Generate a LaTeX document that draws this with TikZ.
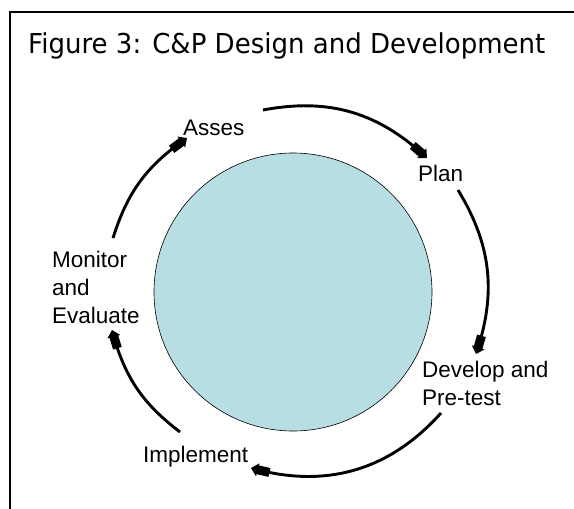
\documentclass[tikz,border=0pt]{standalone}
\usepackage{fontspec}
\setmainfont{Liberation Sans}
\newfontfamily\titlefont[FakeStretch=0.95]{DejaVu Sans}
\usetikzlibrary{arrows.meta,bending}
\definecolor{hubfill}{RGB}{183,222,226}
\tikzset{
  lbl/.style={anchor=base west, inner sep=0pt, align=left,
    font=\fontsize{22.5}{28}\selectfont},
  cyc/.style={line width=2.9pt,
    -{Rectangle[length=13pt,width=9pt,sep=-1pt]Triangle[length=7pt,width=13pt]}},
}
\begin{document}
\begin{tikzpicture}[x=1pt,y=-1pt]
\useasboundingbox (0,0) rectangle (574,509);
% frame
\draw[line width=2pt] (576,12) -- (10,12) -- (10,511);
% title
\node[anchor=base west, inner sep=0pt, font=\titlefont\fontsize{27.4}{32}\selectfont]
  (title) at (28,53) {Figure 3: C\&P Design and Development};
% hub circle
\node[circle, draw, line width=0.6pt, fill=hubfill, minimum size=278pt, inner sep=0pt]
  (hub) at (293,292) {};
% labels (base = baseline of last line)
\node[lbl] (asses) at (183,135) {Asses};
\node[lbl] (plan) at (418,181) {Plan};
\node[lbl] (develop) at (422,405) {Develop and\\Pre-test};
\node[lbl] (implement) at (143,462) {Implement};
\node[lbl] (monitor) at (52,323) {Monitor\\and\\Evaluate};
% arrow end points
\coordinate (a1s) at (113,238); \coordinate (a1e) at (187,138);
\coordinate (a2s) at (263,110); \coordinate (a2e) at (427,158);
\coordinate (a3s) at (458,190); \coordinate (a3e) at (476,354);
\coordinate (a4s) at (441,413); \coordinate (a4e) at (251,468);
\coordinate (a5s) at (180,432); \coordinate (a5e) at (112,330);
% cycle arrows
\draw[cyc] (a1s) to[bend left=19] (a1e);
\draw[cyc] (a2s) to[bend left=27] (a2e);
\draw[cyc] (a3s) to[bend left=25] (a3e);
\draw[cyc] (a4s) to[bend left=32] (a4e);
\draw[cyc] (a5s) to[bend left=19] (a5e);
\end{tikzpicture}
\end{document}
